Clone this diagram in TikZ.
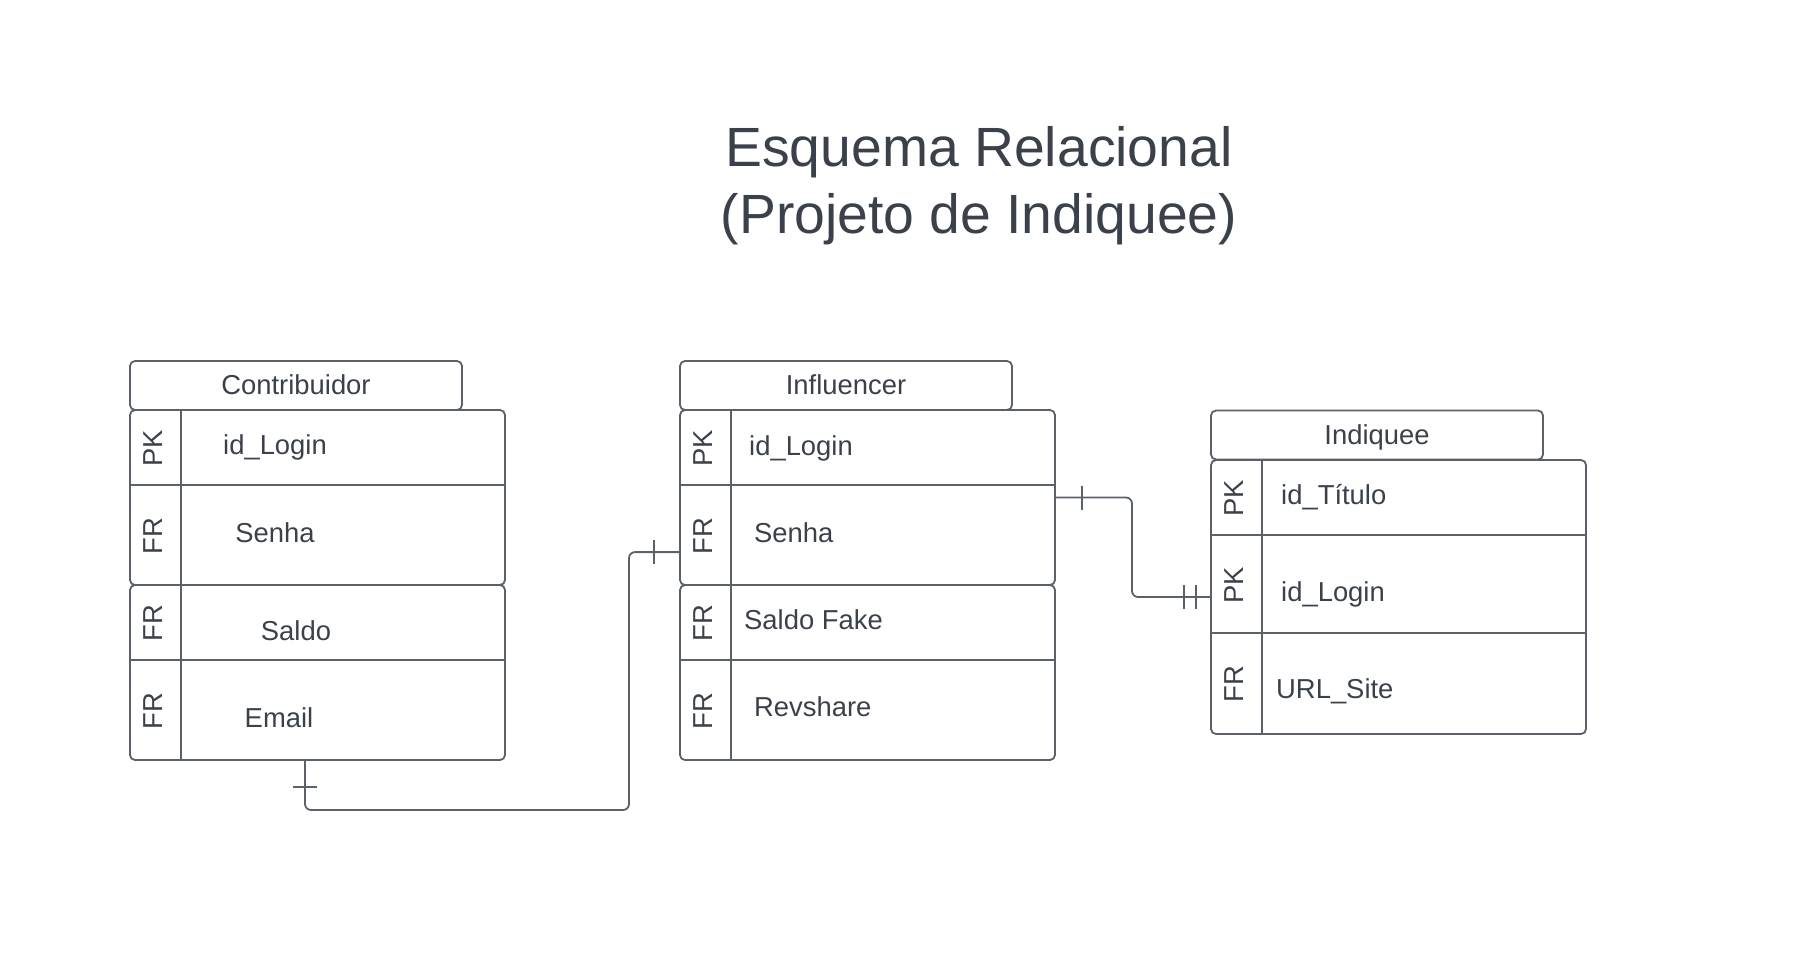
\documentclass[tikz,border=0pt]{standalone}
\usepackage{fontspec}
\setmainfont{Liberation Sans}
\usepackage{xcolor}
\usepackage{tikz}
\usetikzlibrary{calc}

\definecolor{textgray}{HTML}{3A414A}
\definecolor{linegray}{HTML}{5B6169}
\newcommand{\fieldfont}{\fontsize{27.4}{33}\selectfont}
\newcommand{\titlefont}{\fontsize{55.3}{67}\selectfont}

\begin{document}
\begin{tikzpicture}
                        [x=1pt, y=-1pt,
                         every node/.style={text=textgray, font=\fieldfont},
                         tabhead/.style={draw=linegray, line width=1.8pt, rounded corners=5pt, minimum width=332pt, minimum height=49pt, inner sep=0pt, text depth=0.17em},
                         tabbox/.style={draw=linegray, line width=1.8pt, rounded corners=5pt, minimum width=375pt, inner sep=0pt},
                         keylbl/.style={rotate=90, inner sep=0pt},
                         field/.style={anchor=west, inner sep=0pt},
                         rowline/.style={draw=linegray, line width=1.8pt},
                         link/.style={draw=linegray, line width=1.8pt, rounded corners=6pt}]

                        \useasboundingbox (0,0) rectangle (1802,959);

                        \node[font=\titlefont, align=center] (title) at (979,186) {Esquema Relacional\\(Projeto de Indiquee)};

                        % Contribuidor
                        \node[tabhead] (chead) at (296,385.5) {Contribuidor};
                        \node[tabbox, minimum height=175pt] (cbox1) at (317.5,497.5) {};
                        \node[tabbox, minimum height=175pt] (cbox2) at (317.5,672.5) {};
                        \draw[rowline] ($(cbox1.north west)+(52,0)$) -- ($(cbox2.south west)+(52,0)$);
                        \draw[rowline] ($(cbox1.north west)+(0,76)$) -- ($(cbox1.north east)+(0,76)$);
                        \draw[rowline] ($(cbox2.north west)+(0,76)$) -- ($(cbox2.north east)+(0,76)$);
                        \node[keylbl] (ck1) at (153,448) {PK};
                        \node[keylbl] (ck2) at (153,536) {FR};
                        \node[keylbl] (ck3) at (153,623) {FR};
                        \node[keylbl] (ck4) at (153,711) {FR};
                        \node (cf1) at (275,447) {id\_Login};
                        \node (cf2) at (275,533) {Senha};
                        \node (cf3) at (296,631) {Saldo};
                        \node (cf4) at (279,718) {Email};

                        % Influencer
                        \node[tabhead] (ihead) at (846,385.5) {Influencer};
                        \node[tabbox, minimum height=175pt] (ibox1) at (867.5,497.5) {};
                        \node[tabbox, minimum height=175pt] (ibox2) at (867.5,672.5) {};
                        \draw[rowline] ($(ibox1.north west)+(52,0)$) -- ($(ibox2.south west)+(52,0)$);
                        \draw[rowline] ($(ibox1.north west)+(0,76)$) -- ($(ibox1.north east)+(0,76)$);
                        \draw[rowline] ($(ibox2.north west)+(0,76)$) -- ($(ibox2.north east)+(0,76)$);
                        \node[keylbl] (ik1) at (703,448) {PK};
                        \node[keylbl] (ik2) at (703,536) {FR};
                        \node[keylbl] (ik3) at (703,623) {FR};
                        \node[keylbl] (ik4) at (703,711) {FR};
                        \node[field] (if1) at (749,448) {id\_Login};
                        \node[field] (if2) at (754,533) {Senha};
                        \node[field] (if3) at (744,620) {Saldo Fake};
                        \node[field] (if4) at (754,707) {Revshare};

                        % Indiquee
                        \node[tabhead] (qhead) at (1377,435) {Indiquee};
                        \node[tabbox, minimum height=274pt] (qbox) at (1398.5,597) {};
                        \draw[rowline] ($(qbox.north west)+(52,0)$) -- ($(qbox.south west)+(52,0)$);
                        \draw[rowline] ($(qbox.north west)+(0,76)$) -- ($(qbox.north east)+(0,76)$);
                        \draw[rowline] ($(qbox.north west)+(0,174)$) -- ($(qbox.north east)+(0,174)$);
                        \node[keylbl] (qk1) at (1234,498) {PK};
                        \node[keylbl] (qk2) at (1234,585) {PK};
                        \node[keylbl] (qk3) at (1234,684) {FR};
                        \node[field] (qf1) at (1281,497) {id\_Título};
                        \node[field] (qf2) at (1281,594) {id\_Login};
                        \node[field] (qf3) at (1276,691) {URL\_Site};

                        % relacoes
                        \coordinate (cout) at ($(cbox2.south)+(-12.5,0)$);
                        \coordinate (cin) at ($(ibox1.north west)+(0,143)$);
                        \draw[link] (cin) -| (629,810) -| (cout);
                        \draw[rowline] ($(cin)+(-25,-12)$) -- ++(0,24);
                        \draw[rowline] ($(cout)+(-12,26)$) -- ++(24,0);

                        \draw[link] (ibox1.east) -| (1132,550) |- (qbox.west);
                        \draw[rowline] ($(ibox1.east)+(26,-12)$) -- ++(0,24);
                        \draw[rowline] ($(qbox.west)+(-26,-12)$) -- ++(0,24);
                        \draw[rowline] ($(qbox.west)+(-14,-12)$) -- ++(0,24);
                    \end{tikzpicture}
\end{document}
